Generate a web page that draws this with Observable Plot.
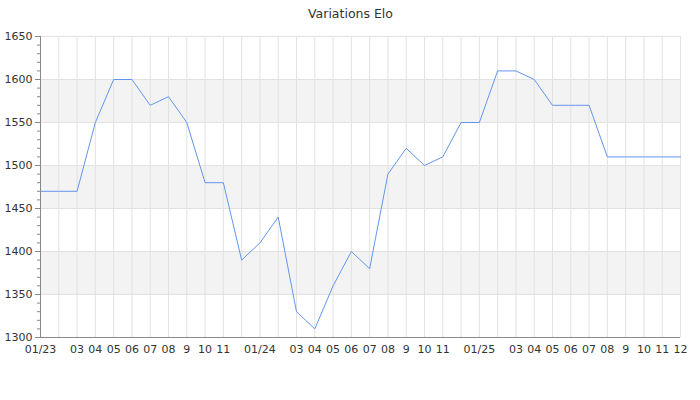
<!DOCTYPE html>
<html>
<head>
<meta charset="utf-8">
<script src="https://cdn.jsdelivr.net/npm/d3@7"></script>
<script src="https://cdn.jsdelivr.net/npm/@observablehq/plot@0.6"></script>
<style>
  html, body { margin: 0; padding: 0; background: #fff; }
  #chart svg { display: block; }
</style>
</head>
<body>
<div id="chart"></div>
<script>
const title = "Variations Elo";
const months = [
  "2023-01","2023-02","2023-03","2023-04","2023-05","2023-06","2023-07","2023-08","2023-09","2023-10","2023-11","2023-12",
  "2024-01","2024-02","2024-03","2024-04","2024-05","2024-06","2024-07","2024-08","2024-09","2024-10","2024-11","2024-12",
  "2025-01","2025-02","2025-03","2025-04","2025-05","2025-06","2025-07","2025-08","2025-09","2025-10","2025-11","2025-12"
];
const tickLabels = [
  "01/23","","03","04","05","06","07","08","9","10","11","",
  "01/24","","03","04","05","06","07","08","9","10","11","",
  "01/25","","03","04","05","06","07","08","9","10","11","12"
];
const elo = [
  1470,1470,1470,1550,1600,1600,1570,1580,1550,1480,1480,1390,
  1410,1440,1330,1310,1360,1400,1380,1490,1520,1500,1510,1550,
  1550,1610,1610,1600,1570,1570,1570,1510,1510,1510,1510,1510
];
const yTicks = [1300,1350,1400,1450,1500,1550,1600,1650];
const yMinorTicks = d3.range(1300, 1651, 10);
const bandLow = [1350,1450,1550];
const bandHigh = [1400,1500,1600];

const data = months.map((m, i) => ({i, month: m, elo: elo[i]}));
const bands = bandLow.map((lo, k) => ({lo, hi: bandHigh[k]}));
const idx = d3.range(months.length);

const chart = Plot.plot({
  width: 700,
  height: 400,
  marginTop: 36,
  marginBottom: 63,
  marginLeft: 40,
  marginRight: 20,
  style: {fontFamily: "DejaVu Sans", fontSize: "11px", color: "#333", background: "#fff"},
  x: {type: "linear", domain: [0, months.length - 1], label: null},
  y: {domain: [1300, 1650], label: null},
  marks: [
    Plot.rectY(bands, {y1: "lo", y2: "hi", fill: "#f3f3f3"}),
    Plot.ruleX(idx, {stroke: "#e2e2e2", strokeWidth: 1}),
    Plot.ruleY(yTicks, {stroke: "#e2e2e2", strokeWidth: 1}),
    Plot.line(data, {x: "i", y: "elo", stroke: "#6495ed", strokeWidth: 1}),
    Plot.ruleX([0], {stroke: "#888"}),
    Plot.ruleY([1300], {stroke: "#888"}),
    Plot.axisY({ticks: yMinorTicks, tickSize: 3, tickFormat: () => "", stroke: "#888", label: null}),
    Plot.axisY({ticks: yTicks, tickSize: 5, tickPadding: 3, tickFormat: d => String(d), stroke: "#888", fill: "#333", label: null}),
    Plot.axisX({ticks: idx, tickSize: 0, tickPadding: 8, tickFormat: i => tickLabels[i], fill: "#333", label: null}),
    Plot.text([title], {frameAnchor: "top", lineAnchor: "middle", dy: -23, dx: -10, text: d => d, fontSize: 12.5, fill: "#333"})
  ]
});
document.getElementById("chart").appendChild(chart);
</script>
</body>
</html>
